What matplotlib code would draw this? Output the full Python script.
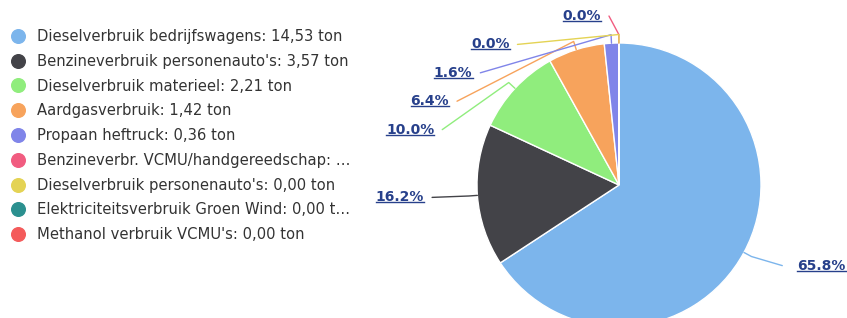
import numpy as np
import matplotlib.pyplot as plt
from matplotlib.lines import Line2D

categories = ["Dieselverbruik bedrijfswagens", "Benzineverbruik personenauto's",
              "Dieselverbruik materieel", "Aardgasverbruik", "Propaan heftruck",
              "Benzineverbr. VCMU/handgereedschap", "Dieselverbruik personenauto's",
              "Elektriciteitsverbruik Groen Wind", "Methanol verbruik VCMU's"]
values = [14.53, 3.57, 2.21, 1.42, 0.36, 0.004, 0.002, 0.0, 0.0]
legend_labels = ["Dieselverbruik bedrijfswagens: 14,53 ton",
                 "Benzineverbruik personenauto's: 3,57 ton",
                 "Dieselverbruik materieel: 2,21 ton",
                 "Aardgasverbruik: 1,42 ton",
                 "Propaan heftruck: 0,36 ton",
                 "Benzineverbr. VCMU/handgereedschap: \u2026",
                 "Dieselverbruik personenauto's: 0,00 ton",
                 "Elektriciteitsverbruik Groen Wind: 0,00 t\u2026",
                 "Methanol verbruik VCMU's: 0,00 ton"]
colors = ["#7cb5ec", "#434348", "#90ed7d", "#f7a35c", "#8085e9",
          "#f15c80", "#e4d354", "#2b908f", "#f45b5b"]

W, H = 847, 318
cx, cy, r = 619, 185, 142  # pie centre / radius in pixels

fig = plt.figure(figsize=(W / 100, H / 100), dpi=100)
ax = fig.add_axes([0, 0, 1, 1])

wedges, _ = ax.pie(values, colors=colors, startangle=90, counterclock=False,
                   wedgeprops=dict(edgecolor="white", linewidth=1))
ax.set_xlim(-cx / r, (W - cx) / r)
ax.set_ylim(-(H - cy) / r, cy / r)
ax.set_aspect("auto")
ax.axis("off")

# data labels, placed on an ellipse around the pie
a, b = 1.375, 1.195
spacing, ytop = 0.2, 1.19
total = sum(values)
items = []
for i, (w, v) in enumerate(zip(wedges, values)):
    if v <= 0:
        continue
    th = np.deg2rad((w.theta1 + w.theta2) / 2)
    items.append(dict(i=i, th=th, y=b * np.sin(th), left=np.cos(th) < 0))

left = sorted([it for it in items if it["left"]], key=lambda d: (-round(d["y"], 3), d["i"]))
prev = ytop + spacing
for it in left:
    it["y"] = min(it["y"], prev - spacing)
    prev = it["y"]

texts = []
for it in items:
    y = it["y"]
    x = a * np.sqrt(max(1 - y ** 2 / b ** 2, 0))
    th = it["th"]
    sx, sy = np.cos(th), np.sin(th)
    if it["left"]:
        tx, lx, ha = -x, -x + 0.055, "right"
    else:
        tx, lx, ha = x + 0.045, x - 0.06, "left"
    ax.plot([sx, 1.06 * sx, lx], [sy, 1.06 * sy, y], color=colors[it["i"]], lw=1,
            solid_capstyle="round", zorder=1)
    pct = values[it["i"]] / total * 100
    t = ax.text(tx, y, f"{pct:.1f}%", ha=ha, va="center", fontsize=10,
                fontweight="bold", color="#27408b")
    texts.append(t)

handles = [Line2D([], [], marker="o", linestyle="", markersize=9.8,
                  markerfacecolor=c, markeredgecolor=c) for c in colors]
fig.legend(handles, legend_labels, loc="upper left", bbox_to_anchor=(0.0125, 0.909),
           frameon=False, fontsize=10.6, handlelength=1, handletextpad=0.79,
           labelspacing=0.665, borderpad=0, borderaxespad=0, labelcolor="#333333")

# underline the data labels
fig.canvas.draw()
rend = fig.canvas.get_renderer()
for t in texts:
    bb = t.get_window_extent(rend)
    y0 = (bb.y0 + 2) / H
    fig.add_artist(Line2D([bb.x0 / W, bb.x1 / W], [y0, y0], color="#27408b", lw=1))

fig.savefig("out.png", dpi=100)
